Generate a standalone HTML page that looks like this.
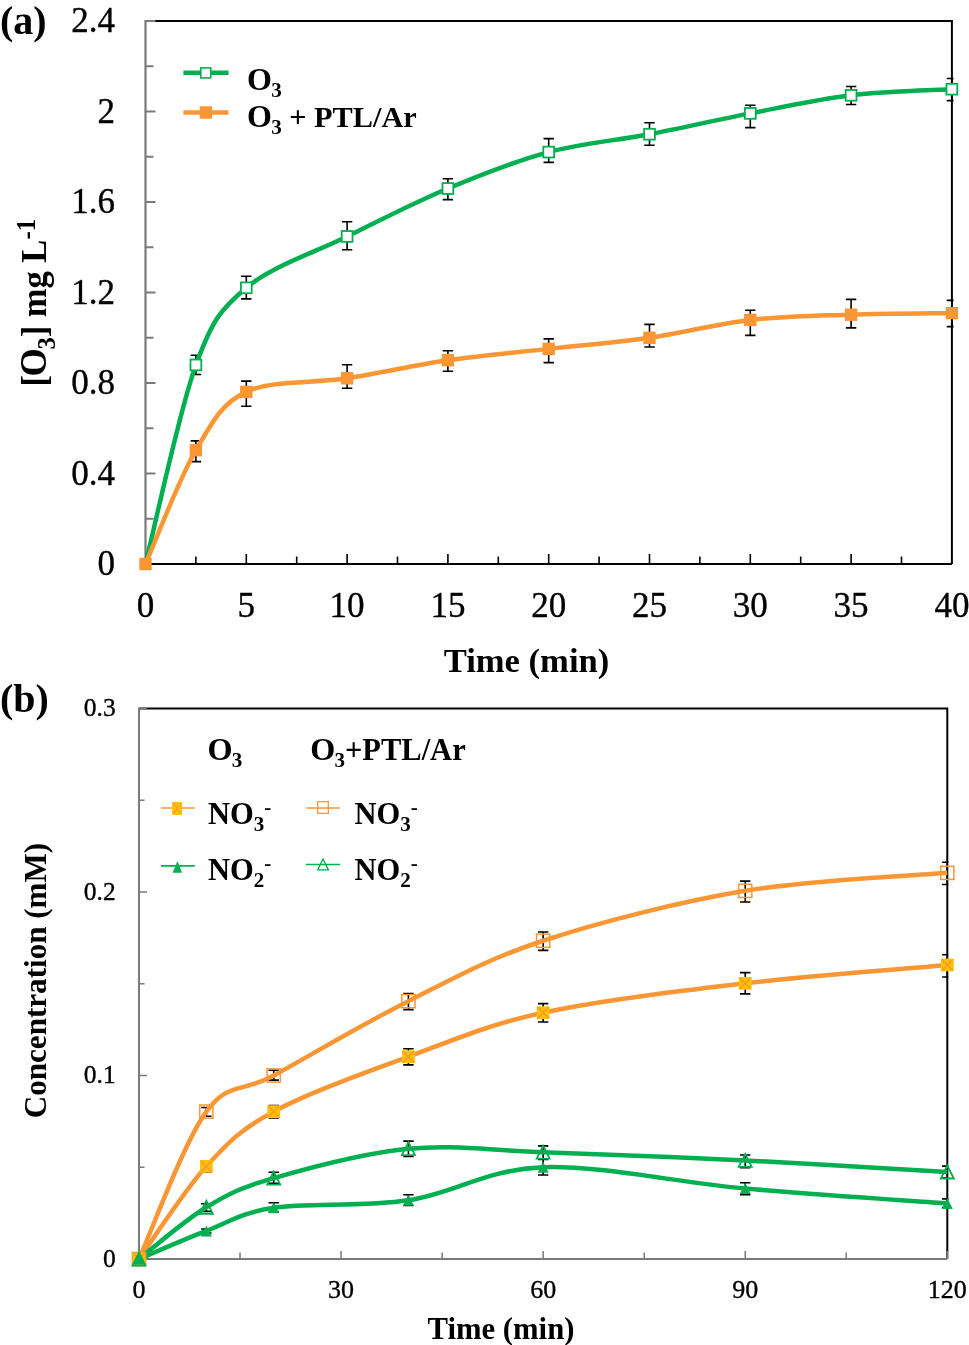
<!DOCTYPE html><html><head><meta charset="utf-8"><title>Ozone chart</title><style>html,body{margin:0;padding:0;background:#fff;width:969px;height:1345px;overflow:hidden}svg{display:block;will-change:transform}text{font-family:"Liberation Serif",serif;fill:#000}.r{stroke:#000;stroke-width:0.35px}.b{font-weight:bold}</style></head><body>
<svg width="969" height="1345" viewBox="0 0 969 1345">
<rect width="969" height="1345" fill="#fff"/>
<path d="M145.5,21.1 H951.9 V564" fill="none" stroke="#000" stroke-width="2"/>
<path d="M145.5,564 h10 M145.5,518.76 h8 M145.5,473.52 h10 M145.5,428.27 h8 M145.5,383.03 h10 M145.5,337.79 h8 M145.5,292.55 h10 M145.5,247.31 h8 M145.5,202.07 h10 M145.5,156.82 h8 M145.5,111.58 h10 M145.5,66.34 h8 M145.5,21.1 h10 " stroke="#7A7A7A" stroke-width="2" fill="none"/>
<path d="M145.5,20.1 V564" stroke="#7A7A7A" stroke-width="2.2" fill="none"/>
<path d="M195.9,564 v-7.5 M246.3,564 v-10 M296.7,564 v-7.5 M347.1,564 v-10 M397.5,564 v-7.5 M447.9,564 v-10 M498.3,564 v-7.5 M548.7,564 v-10 M599.1,564 v-7.5 M649.5,564 v-10 M699.9,564 v-7.5 M750.3,564 v-10 M800.7,564 v-7.5 M851.1,564 v-10 M901.5,564 v-7.5 " stroke="#000" stroke-width="1.6" fill="none"/>
<path d="M145.5,564 H951.9" stroke="#000" stroke-width="2" fill="none"/>
<text x="115" y="575.3" font-size="35" class="r" text-anchor="end">0</text>
<text x="115" y="484.82" font-size="35" class="r" text-anchor="end">0.4</text>
<text x="115" y="394.33" font-size="35" class="r" text-anchor="end">0.8</text>
<text x="115" y="303.85" font-size="35" class="r" text-anchor="end">1.2</text>
<text x="115" y="213.37" font-size="35" class="r" text-anchor="end">1.6</text>
<text x="115" y="122.88" font-size="35" class="r" text-anchor="end">2</text>
<text x="115" y="32.4" font-size="35" class="r" text-anchor="end">2.4</text>
<text x="145.5" y="617.2" font-size="35" class="r" text-anchor="middle">0</text>
<text x="246.3" y="617.2" font-size="35" class="r" text-anchor="middle">5</text>
<text x="347.1" y="617.2" font-size="35" class="r" text-anchor="middle">10</text>
<text x="447.9" y="617.2" font-size="35" class="r" text-anchor="middle">15</text>
<text x="548.7" y="617.2" font-size="35" class="r" text-anchor="middle">20</text>
<text x="649.5" y="617.2" font-size="35" class="r" text-anchor="middle">25</text>
<text x="750.3" y="617.2" font-size="35" class="r" text-anchor="middle">30</text>
<text x="851.1" y="617.2" font-size="35" class="r" text-anchor="middle">35</text>
<text x="951.9" y="617.2" font-size="35" class="r" text-anchor="middle">40</text>
<text x="526.5" y="672" font-size="34.6" class="b" text-anchor="middle">Time (min)</text>
<text x="0" y="34" font-size="40" class="b">(a)</text>
<text transform="translate(45.7,386.4) rotate(-90) scale(1,1.06)" font-size="34.5" class="b">[<tspan font-size="36.5" dx="-1.6">O</tspan><tspan font-size="24.5" dy="8.5" dx="-1.5">3</tspan><tspan dy="-8.5">] mg L</tspan><tspan font-size="25" dy="-10.5">-1</tspan></text>
<clipPath id="ca"><rect x="0" y="0" width="953.6" height="700"/></clipPath>
<path d="M195.9,355.3 V374.5 M190.7,355.3 h10.4 M190.7,374.5 h10.4 M246.3,276.2 V298.9 M241.1,276.2 h10.4 M241.1,298.9 h10.4 M347.1,221.8 V249.7 M341.9,221.8 h10.4 M341.9,249.7 h10.4 M447.9,178.8 V199.6 M442.7,178.8 h10.4 M442.7,199.6 h10.4 M548.7,138.6 V162.4 M543.5,138.6 h10.4 M543.5,162.4 h10.4 M649.5,122.7 V145.3 M644.3,122.7 h10.4 M644.3,145.3 h10.4 M750.3,105.3 V127.6 M745.1,105.3 h10.4 M745.1,127.6 h10.4 M851.1,86.5 V104.5 M845.9,86.5 h10.4 M845.9,104.5 h10.4 M951.9,78.5 V100.6 M946.7,78.5 h10.4 M946.7,100.6 h10.4 M195.9,440.9 V461.6 M190.7,440.9 h10.4 M190.7,461.6 h10.4 M246.3,381.1 V406.2 M241.1,381.1 h10.4 M241.1,406.2 h10.4 M347.1,364.7 V388.3 M341.9,364.7 h10.4 M341.9,388.3 h10.4 M447.9,350.7 V371.2 M442.7,350.7 h10.4 M442.7,371.2 h10.4 M548.7,338.9 V362.6 M543.5,338.9 h10.4 M543.5,362.6 h10.4 M649.5,324.4 V347 M644.3,324.4 h10.4 M644.3,347 h10.4 M750.3,310.3 V335.4 M745.1,310.3 h10.4 M745.1,335.4 h10.4 M851.1,299.4 V327.9 M845.9,299.4 h10.4 M845.9,327.9 h10.4 M951.9,300.4 V326.6 M946.7,300.4 h10.4 M946.7,326.6 h10.4 " stroke="#000" stroke-width="1.6" fill="none" clip-path="url(#ca)"/>
<path d="M145.5,564 C153.9,530.82 179.1,410.97 195.9,364.94 C212.7,318.9 221.1,309.21 246.3,287.8 C271.5,266.39 313.5,253 347.1,236.45 C380.7,219.9 414.3,202.56 447.9,188.49 C481.5,174.43 515.1,161.12 548.7,152.07 C582.3,143.03 615.9,140.65 649.5,134.2 C683.1,127.76 716.7,119.88 750.3,113.39 C783.9,106.91 817.5,99.33 851.1,95.3 C884.7,91.26 935.1,90.21 951.9,89.19" fill="none" stroke="#00B050" stroke-width="4.5" stroke-linejoin="round"/>
<path d="M145.5,564 C153.9,545.04 179.1,478.91 195.9,450.22 C212.7,421.53 221.1,403.84 246.3,391.86 C271.5,379.87 313.5,383.56 347.1,378.28 C380.7,373 414.3,365.09 447.9,360.19 C481.5,355.29 515.1,352.61 548.7,348.88 C582.3,345.14 615.9,342.62 649.5,337.79 C683.1,332.97 716.7,323.77 750.3,319.92 C783.9,316.08 817.5,315.85 851.1,314.72 C884.7,313.59 935.1,313.4 951.9,313.13" fill="none" stroke="#FA9634" stroke-width="4.5" stroke-linejoin="round"/>
<rect x="190.5" y="359.54" width="10.8" height="10.8" fill="#fff" stroke="#00B050" stroke-width="1.8"/>
<rect x="240.9" y="282.4" width="10.8" height="10.8" fill="#fff" stroke="#00B050" stroke-width="1.8"/>
<rect x="341.7" y="231.05" width="10.8" height="10.8" fill="#fff" stroke="#00B050" stroke-width="1.8"/>
<rect x="442.5" y="183.09" width="10.8" height="10.8" fill="#fff" stroke="#00B050" stroke-width="1.8"/>
<rect x="543.3" y="146.67" width="10.8" height="10.8" fill="#fff" stroke="#00B050" stroke-width="1.8"/>
<rect x="644.1" y="128.8" width="10.8" height="10.8" fill="#fff" stroke="#00B050" stroke-width="1.8"/>
<rect x="744.9" y="107.99" width="10.8" height="10.8" fill="#fff" stroke="#00B050" stroke-width="1.8"/>
<rect x="845.7" y="89.9" width="10.8" height="10.8" fill="#fff" stroke="#00B050" stroke-width="1.8"/>
<rect x="946.5" y="83.79" width="10.8" height="10.8" fill="#fff" stroke="#00B050" stroke-width="1.8"/>
<rect x="139.3" y="557.8" width="12.4" height="12.4" fill="#FA9634"/>
<rect x="189.7" y="444.02" width="12.4" height="12.4" fill="#FA9634"/>
<rect x="240.1" y="385.66" width="12.4" height="12.4" fill="#FA9634"/>
<rect x="340.9" y="372.08" width="12.4" height="12.4" fill="#FA9634"/>
<rect x="441.7" y="353.99" width="12.4" height="12.4" fill="#FA9634"/>
<rect x="542.5" y="342.68" width="12.4" height="12.4" fill="#FA9634"/>
<rect x="643.3" y="331.59" width="12.4" height="12.4" fill="#FA9634"/>
<rect x="744.1" y="313.72" width="12.4" height="12.4" fill="#FA9634"/>
<rect x="844.9" y="308.52" width="12.4" height="12.4" fill="#FA9634"/>
<rect x="945.7" y="306.93" width="12.4" height="12.4" fill="#FA9634"/>
<path d="M183.4,72.8 H228.5" stroke="#00B050" stroke-width="4.5"/>
<rect x="200.8" y="67.9" width="10" height="10" fill="#fff" stroke="#00B050" stroke-width="1.6"/>
<path d="M183.4,112.5 H228.5" stroke="#FA9634" stroke-width="4.5"/>
<rect x="199.7" y="106.3" width="12.4" height="12.4" fill="#FA9634"/>
<text x="247.1" y="89.6" font-size="30.3" class="b"><tspan font-size="32">O</tspan><tspan font-size="21" dy="7" dx="-0.8">3</tspan></text>
<text x="247.1" y="127.4" font-size="30.3" class="b"><tspan font-size="32">O</tspan><tspan font-size="21" dy="7" dx="-0.8">3</tspan><tspan dy="-7"> + PTL/Ar</tspan></text>
<path d="M139,708.4 H947.3 V1259" fill="none" stroke="#000" stroke-width="2"/>
<path d="M139,1259 h8 M139,1167.23 h5.5 M139,1075.47 h8 M139,983.7 h5.5 M139,891.93 h8 M139,800.17 h5.5 M139,708.4 h8 M240.04,1259 v-6.5 M341.07,1259 v-8 M442.11,1259 v-6.5 M543.15,1259 v-8 M644.19,1259 v-6.5 M745.23,1259 v-8 M846.26,1259 v-6.5 M947.3,1259 v-8 " stroke="#7A7A7A" stroke-width="1.5" fill="none"/>
<path d="M139,707.4 V1259 H947.3" stroke="#7A7A7A" stroke-width="2" fill="none"/>
<text x="115.7" y="1266.9" font-size="25.5" class="r" text-anchor="end">0</text>
<text x="115.7" y="1083.37" font-size="25.5" class="r" text-anchor="end">0.1</text>
<text x="115.7" y="899.83" font-size="25.5" class="r" text-anchor="end">0.2</text>
<text x="115.7" y="716.3" font-size="25.5" class="r" text-anchor="end">0.3</text>
<text x="139" y="1297.5" font-size="26" class="r" text-anchor="middle">0</text>
<text x="341.07" y="1297.5" font-size="26" class="r" text-anchor="middle">30</text>
<text x="543.15" y="1297.5" font-size="26" class="r" text-anchor="middle">60</text>
<text x="745.23" y="1297.5" font-size="26" class="r" text-anchor="middle">90</text>
<text x="947.3" y="1297.5" font-size="26" class="r" text-anchor="middle">120</text>
<text x="501" y="1339" font-size="30.7" class="b" text-anchor="middle">Time (min)</text>
<text x="0" y="712" font-size="40" class="b">(b)</text>
<text transform="translate(45.5,980.5) rotate(-90) scale(1,1.04)" font-size="31.1" class="b" text-anchor="middle">Concentration (mM)</text>
<clipPath id="cb"><rect x="0" y="690" width="948.3" height="600"/></clipPath>
<path d="M206.36,1161.5 V1172 M201.16,1161.5 h10.4 M201.16,1172 h10.4 M273.72,1105.5 V1118 M268.52,1105.5 h10.4 M268.52,1118 h10.4 M408.43,1048.8 V1064.9 M403.23,1048.8 h10.4 M403.23,1064.9 h10.4 M543.15,1003.6 V1022 M537.95,1003.6 h10.4 M537.95,1022 h10.4 M745.23,972.6 V993.9 M740.02,972.6 h10.4 M740.02,993.9 h10.4 M947.3,954.7 V977 M942.1,954.7 h10.4 M942.1,977 h10.4 M206.36,1107.5 V1116.2 M201.16,1107.5 h10.4 M201.16,1116.2 h10.4 M273.72,1070.3 V1080.1 M268.52,1070.3 h10.4 M268.52,1080.1 h10.4 M408.43,993.5 V1009.6 M403.23,993.5 h10.4 M403.23,1009.6 h10.4 M543.15,932 V950.4 M537.95,932 h10.4 M537.95,950.4 h10.4 M745.23,881.1 V902 M740.02,881.1 h10.4 M740.02,902 h10.4 M947.3,862.3 V884.5 M942.1,862.3 h10.4 M942.1,884.5 h10.4 M206.36,1229 V1233 M201.16,1229 h10.4 M201.16,1233 h10.4 M273.72,1202.8 V1212 M268.52,1202.8 h10.4 M268.52,1212 h10.4 M408.43,1194.8 V1205.5 M403.23,1194.8 h10.4 M403.23,1205.5 h10.4 M543.15,1159.5 V1175 M537.95,1159.5 h10.4 M537.95,1175 h10.4 M745.23,1182.7 V1194.8 M740.02,1182.7 h10.4 M740.02,1194.8 h10.4 M947.3,1198.9 V1207.5 M942.1,1198.9 h10.4 M942.1,1207.5 h10.4 M206.36,1203.7 V1211.4 M201.16,1203.7 h10.4 M201.16,1211.4 h10.4 M273.72,1172.2 V1183.2 M268.52,1172.2 h10.4 M268.52,1183.2 h10.4 M408.43,1141.1 V1156.4 M403.23,1141.1 h10.4 M403.23,1156.4 h10.4 M543.15,1145.9 V1159.5 M537.95,1145.9 h10.4 M537.95,1159.5 h10.4 M745.23,1155 V1167.7 M740.02,1155 h10.4 M740.02,1167.7 h10.4 M947.3,1166.1 V1177.7 M942.1,1166.1 h10.4 M942.1,1177.7 h10.4 " stroke="#000" stroke-width="1.6" fill="none" clip-path="url(#cb)"/>
<path d="M139,1259 C150.23,1234.44 183.91,1142.21 206.36,1111.62 C228.81,1081.03 240.04,1093.88 273.72,1075.47 C307.4,1057.05 363.53,1023.59 408.43,1001.14 C453.34,978.68 487.02,959.14 543.15,940.75 C599.28,922.37 677.87,902.15 745.23,890.83 C812.58,879.51 913.62,875.84 947.3,872.85" fill="none" stroke="#FA9634" stroke-width="4.5"/>
<path d="M139,1259 C150.23,1243.55 183.91,1190.88 206.36,1166.32 C228.81,1141.75 240.04,1129.88 273.72,1111.62 C307.4,1093.36 363.53,1073.23 408.43,1056.75 C453.34,1040.26 487.02,1024.93 543.15,1012.7 C599.28,1000.46 677.87,991.29 745.23,983.33 C812.58,975.38 913.62,968.04 947.3,964.98" fill="none" stroke="#FA9634" stroke-width="4.5"/>
<path d="M139,1259 C150.23,1250.37 183.91,1220.73 206.36,1207.24 C228.81,1193.75 240.04,1187.82 273.72,1178.06 C307.4,1168.3 363.53,1153.01 408.43,1148.7 C453.34,1144.38 487.02,1150.23 543.15,1152.18 C599.28,1154.14 677.87,1157.14 745.23,1160.44 C812.58,1163.75 913.62,1170.08 947.3,1172.01" fill="none" stroke="#00B050" stroke-width="4.5"/>
<path d="M139,1259 C150.23,1254.32 183.91,1239.45 206.36,1230.92 C228.81,1222.39 240.04,1212.9 273.72,1207.79 C307.4,1202.69 363.53,1207.03 408.43,1200.27 C453.34,1193.51 487.02,1169.19 543.15,1167.23 C599.28,1165.28 677.87,1182.5 745.23,1188.52 C812.58,1194.55 913.62,1200.91 947.3,1203.39" fill="none" stroke="#00B050" stroke-width="4.5"/>
<rect x="132.4" y="1252.4" width="13.2" height="13.2" fill="none" stroke="#FA9634" stroke-width="1.5"/>
<rect x="199.76" y="1105.02" width="13.2" height="13.2" fill="none" stroke="#FA9634" stroke-width="1.5"/>
<rect x="267.12" y="1068.87" width="13.2" height="13.2" fill="none" stroke="#FA9634" stroke-width="1.5"/>
<rect x="401.83" y="994.54" width="13.2" height="13.2" fill="none" stroke="#FA9634" stroke-width="1.5"/>
<rect x="536.55" y="934.15" width="13.2" height="13.2" fill="none" stroke="#FA9634" stroke-width="1.5"/>
<rect x="738.62" y="884.23" width="13.2" height="13.2" fill="none" stroke="#FA9634" stroke-width="1.5"/>
<rect x="940.7" y="866.25" width="13.2" height="13.2" fill="none" stroke="#FA9634" stroke-width="1.5"/>
<rect x="132.6" y="1252.6" width="12.8" height="12.8" fill="#FFC000"/><path d="M133.6,1253.6 L144.4,1264.4 M144.4,1253.6 L133.6,1264.4" stroke="#FA9634" stroke-width="1.4"/>
<rect x="199.96" y="1159.92" width="12.8" height="12.8" fill="#FFC000"/><path d="M200.96,1160.92 L211.76,1171.72 M211.76,1160.92 L200.96,1171.72" stroke="#FA9634" stroke-width="1.4"/>
<rect x="267.32" y="1105.22" width="12.8" height="12.8" fill="#FFC000"/><path d="M268.32,1106.22 L279.12,1117.02 M279.12,1106.22 L268.32,1117.02" stroke="#FA9634" stroke-width="1.4"/>
<rect x="402.03" y="1050.35" width="12.8" height="12.8" fill="#FFC000"/><path d="M403.03,1051.35 L413.83,1062.15 M413.83,1051.35 L403.03,1062.15" stroke="#FA9634" stroke-width="1.4"/>
<rect x="536.75" y="1006.3" width="12.8" height="12.8" fill="#FFC000"/><path d="M537.75,1007.3 L548.55,1018.1 M548.55,1007.3 L537.75,1018.1" stroke="#FA9634" stroke-width="1.4"/>
<rect x="738.83" y="976.93" width="12.8" height="12.8" fill="#FFC000"/><path d="M739.83,977.93 L750.62,988.73 M750.62,977.93 L739.83,988.73" stroke="#FA9634" stroke-width="1.4"/>
<rect x="940.9" y="958.58" width="12.8" height="12.8" fill="#FFC000"/><path d="M941.9,959.58 L952.7,970.38 M952.7,959.58 L941.9,970.38" stroke="#FA9634" stroke-width="1.4"/>
<polygon points="139,1252.5 145.5,1265.5 132.5,1265.5" fill="none" stroke="#00B050" stroke-width="1.8"/>
<polygon points="206.36,1200.74 212.86,1213.74 199.86,1213.74" fill="none" stroke="#00B050" stroke-width="1.8"/>
<polygon points="273.72,1171.56 280.22,1184.56 267.22,1184.56" fill="none" stroke="#00B050" stroke-width="1.8"/>
<polygon points="408.43,1142.2 414.93,1155.2 401.93,1155.2" fill="none" stroke="#00B050" stroke-width="1.8"/>
<polygon points="543.15,1145.68 549.65,1158.68 536.65,1158.68" fill="none" stroke="#00B050" stroke-width="1.8"/>
<polygon points="745.23,1153.94 751.73,1166.94 738.73,1166.94" fill="none" stroke="#00B050" stroke-width="1.8"/>
<polygon points="947.3,1165.51 953.8,1178.51 940.8,1178.51" fill="none" stroke="#00B050" stroke-width="1.8"/>
<polygon points="139,1253.5 144.5,1264.5 133.5,1264.5" fill="#00B050"/>
<polygon points="206.36,1225.42 211.86,1236.42 200.86,1236.42" fill="#00B050"/>
<polygon points="273.72,1202.29 279.22,1213.29 268.22,1213.29" fill="#00B050"/>
<polygon points="408.43,1194.77 413.93,1205.77 402.93,1205.77" fill="#00B050"/>
<polygon points="543.15,1161.73 548.65,1172.73 537.65,1172.73" fill="#00B050"/>
<polygon points="745.23,1183.02 750.73,1194.02 739.73,1194.02" fill="#00B050"/>
<polygon points="947.3,1197.89 952.8,1208.89 941.8,1208.89" fill="#00B050"/>
<text x="207.4" y="759.8" font-size="30.5" class="b"><tspan font-size="32.2">O</tspan><tspan font-size="21" dy="7" dx="-0.8">3</tspan></text>
<text x="310.2" y="759.8" font-size="30.5" class="b"><tspan font-size="32.2">O</tspan><tspan font-size="21" dy="7" dx="-0.8">3</tspan><tspan dy="-7">+PTL/Ar</tspan></text>
<path d="M161,808 H194.8" stroke="#FA9634" stroke-width="1.6"/>
<path d="M161,865.9 H194.8" stroke="#00B050" stroke-width="1.6"/>
<rect x="172.1" y="802" width="10" height="12.9" fill="#FFC000"/>
<path d="M173.2,803.3 L181,813.6 M181,803.3 L173.2,813.6" stroke="#FA9634" stroke-width="1"/>
<polygon points="177.4,861 182.1,872.8 172.7,872.8" fill="#00B050"/>
<path d="M306,808 H340" stroke="#FA9634" stroke-width="1.6"/>
<path d="M306,864.5 H340" stroke="#00B050" stroke-width="1.3"/>
<rect x="317.7" y="801.6" width="10.6" height="11.8" fill="none" stroke="#FA9634" stroke-width="1.3"/>
<polygon points="323,858.9 328.4,869.9 317.7,869.9" fill="none" stroke="#00B050" stroke-width="1.3"/>
<text x="208" y="823.9" font-size="30.5" class="b">NO<tspan font-size="21" dy="7">3</tspan><tspan font-size="21" dy="-17">-</tspan></text>
<text x="208" y="880.1" font-size="30.5" class="b">NO<tspan font-size="21" dy="7">2</tspan><tspan font-size="21" dy="-17">-</tspan></text>
<text x="354.5" y="823.9" font-size="30.5" class="b">NO<tspan font-size="21" dy="7">3</tspan><tspan font-size="21" dy="-17">-</tspan></text>
<text x="354.5" y="880.1" font-size="30.5" class="b">NO<tspan font-size="21" dy="7">2</tspan><tspan font-size="21" dy="-17">-</tspan></text>
</svg></body></html>
